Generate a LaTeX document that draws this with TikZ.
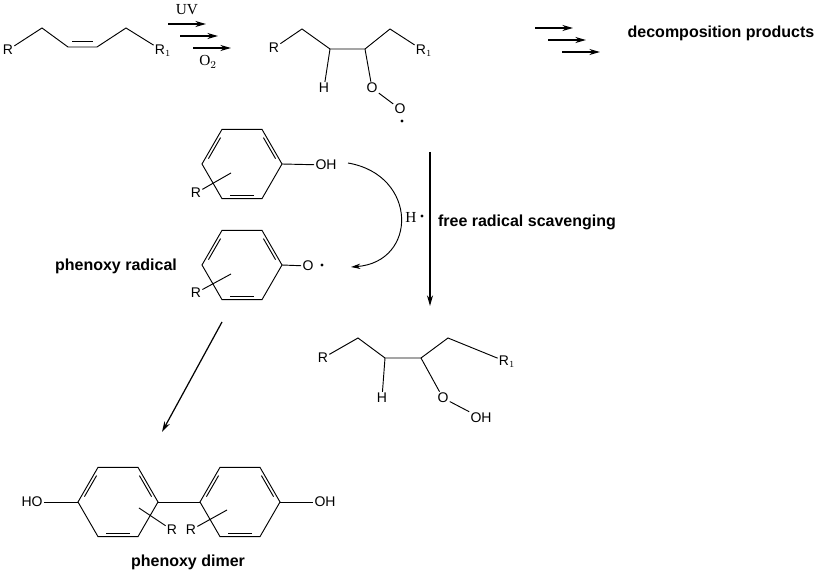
\documentclass[tikz,border=0pt]{standalone}
\usepackage{fontspec}
\usetikzlibrary{arrows.meta}
\setmainfont{Liberation Sans}
\newfontfamily\serifx{Liberation Serif}
\tikzset{
 lab/.style={inner sep=0.8pt,font=\fontsize{10.5}{12}\selectfont},
 slab/.style={inner sep=0.5pt,font=\serifx\fontsize{11.5}{13}\selectfont},
 blab/.style={inner sep=1pt,font=\bfseries\fontsize{12}{14}\selectfont},
 bond/.style={line width=0.7pt},
 rad/.style={circle,fill,inner sep=0pt,minimum size=2.4pt},
 rarr/.style={line width=0.9pt,-{Stealth[length=8pt,width=4.5pt]}},
 benz/.pic={\draw[bond] (0:40)--(60:40)--(120:40)--(180:40)--(240:40)--(300:40)--cycle;
   \foreach \a/\b in {300/360,180/240,60/120}{\draw[bond] ({\a+9}:34)--({\b-9}:34);}}
}
\begin{document}
\begin{tikzpicture}[x=0.75pt,y=-0.75pt]
\useasboundingbox (0,0) rectangle (819,577);
% alkene
\node[lab] (r0) at (8,50) {R};
\node[lab] (r01) at (163,51) {R$_1$};
\draw[bond] (r0) -- (42,28) -- (68,47) -- (97,47) -- (126,28) -- (r01);
\draw[bond] (72,41.5) -- (93,41.5);
% UV arrows
\coordinate (u1) at (168,24); \coordinate (u1e) at (206,24);
\coordinate (u2) at (180,36); \coordinate (u2e) at (218,36);
\coordinate (u3) at (193,48); \coordinate (u3e) at (231,48);
\draw[rarr] (u1)--(u1e); \draw[rarr] (u2)--(u2e); \draw[rarr] (u3)--(u3e);
\node[slab] (uv) at (187,10) {UV};
\node[slab] (o2) at (208,62) {O$_2$};
% peroxyl
\node[lab] (r1) at (274,48) {R};
\node[lab] (r11) at (424,51) {R$_1$};
\coordinate (c1) at (330,49); \coordinate (c2) at (365,49);
\draw[bond] (r1) -- (302,29) -- (c1) -- (c2) -- (390,29) -- (r11);
\node[lab] (h1) at (324,88) {H};
\node[lab] (o1) at (372,88) {O};
\node[lab] (o1b) at (400,109) {O};
\node[rad] (dot1) at (402,121) {};
\draw[bond] (c1) -- (h1); \draw[bond] (c2) -- (o1); \draw[bond] (o1) -- (o1b);
% right arrows
\coordinate (d1) at (535,28); \coordinate (d1e) at (573,28);
\coordinate (d2) at (548,40); \coordinate (d2e) at (586,40);
\coordinate (d3) at (562,52); \coordinate (d3e) at (600,52);
\draw[rarr] (d1)--(d1e); \draw[rarr] (d2)--(d2e); \draw[rarr] (d3)--(d3e);
\node[blab] (dp) at (721,33) {decomposition products};
% phenol
\pic at (242,164) {benz};
\node[lab] (oh1) at (326,165) {OH};
\draw[bond] (282,164) -- (oh1);
\node[lab] (rp1) at (196,193) {R};
\draw[bond] (rp1) -- (231,173);
% phenoxy radical
\pic at (242,265) {benz};
\node[lab] (ox) at (308,266) {O};
\node[rad] (oxd) at (322,265) {};
\draw[bond] (282,265) -- (ox);
\node[lab] (rp2) at (196,293) {R};
\draw[bond] (rp2) -- (231,274);
\node[blab] (pr) at (116,266) {phenoxy radical};
% curved arrow
\coordinate (ca) at (348,163); \coordinate (cb) at (351,267);
\draw[line width=0.7pt,-{Stealth[length=7pt,width=4pt]}] (ca) .. controls (418,175) and (418,262) .. (cb);
\node[slab] (hd) at (411,217) {H};
\node[rad] (hdd) at (422,216) {};
% vertical arrow
\coordinate (va) at (430,152); \coordinate (vb) at (430,306);
\draw[rarr] (va) -- (vb);
\node[blab] (frs) at (527,222) {free radical scavenging};
% hydroperoxide
\node[lab] (r2) at (323,358) {R};
\node[lab] (r21) at (507,362) {R$_1$};
\coordinate (e1) at (385,358); \coordinate (e2) at (421,358);
\draw[bond] (r2) -- (358,338) -- (e1) -- (e2) -- (448,338) -- (r21);
\node[lab] (h2) at (382,398) {H};
\node[lab] (o2a) at (443,398) {O};
\node[lab] (oh2) at (481,418) {OH};
\draw[bond] (e1) -- (h2); \draw[bond] (e2) -- (o2a); \draw[bond] (o2a) -- (oh2.north west);
% arrow to dimer
\coordinate (da) at (222,322); \coordinate (db) at (162,432);
\draw[rarr] (da) -- (db);
% dimer
\pic at (118,502) {benz};
\pic at (240,502) {benz};
\draw[bond] (158,502) -- (200,502);
\node[lab] (ho) at (32,502) {HO};
\draw[bond] (ho) -- (78,502);
\node[lab] (oh3) at (325,502) {OH};
\draw[bond] (280,502) -- (oh3);
\node[lab] (rd1) at (172,530) {R};
\draw[bond] (139,508) -- (rd1);
\node[lab] (rd2) at (191,530) {R};
\draw[bond] (rd2) -- (227,510);
\node[blab] (pd) at (188,562) {phenoxy dimer};
\end{tikzpicture}
\end{document}
